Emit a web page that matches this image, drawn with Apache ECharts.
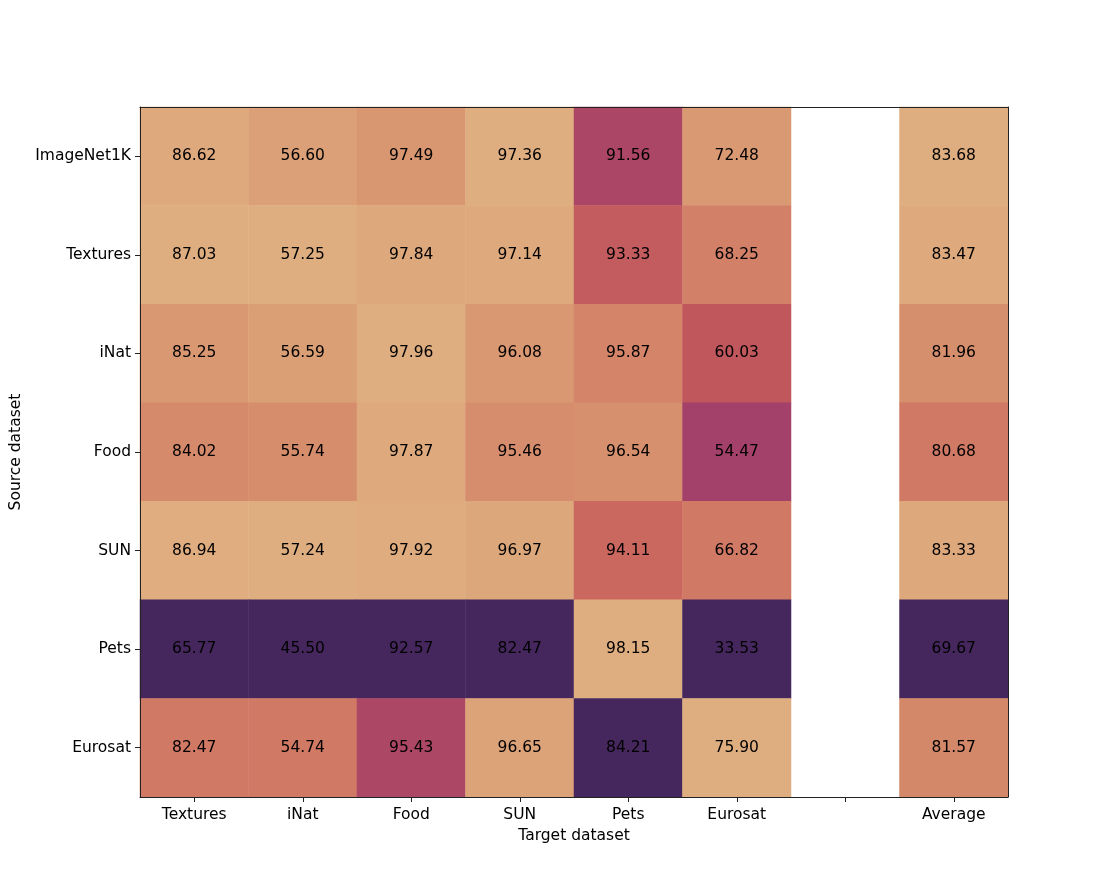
<!DOCTYPE html>
<html>
<head>
<meta charset="utf-8">
<script src="https://cdn.jsdelivr.net/npm/echarts@6/dist/echarts.min.js"></script>
<style>
  html, body { margin: 0; padding: 0; background: #fff; }
  #main { width: 1120px; height: 896px; }
</style>
</head>
<body>
<div id="main"></div>
<script>
var targets = ['Textures', 'iNat', 'Food', 'SUN', 'Pets', 'Eurosat', '', 'Average'];
var sources = ['ImageNet1K', 'Textures', 'iNat', 'Food', 'SUN', 'Pets', 'Eurosat'];

// one row per source dataset: Textures, iNat, Food, SUN, Pets, Eurosat
var rowImageNet1K = [86.62, 56.60, 97.49, 97.36, 91.56, 72.48];
var rowTextures   = [87.03, 57.25, 97.84, 97.14, 93.33, 68.25];
var rowINat       = [85.25, 56.59, 97.96, 96.08, 95.87, 60.03];
var rowFood       = [84.02, 55.74, 97.87, 95.46, 96.54, 54.47];
var rowSUN        = [86.94, 57.24, 97.92, 96.97, 94.11, 66.82];
var rowPets       = [65.77, 45.50, 92.57, 82.47, 98.15, 33.53];
var rowEurosat    = [82.47, 54.74, 95.43, 96.65, 84.21, 75.90];
var averages      = [83.68, 83.47, 81.96, 80.68, 83.33, 69.67, 81.57];

var rows = [rowImageNet1K, rowTextures, rowINat, rowFood, rowSUN, rowPets, rowEurosat];

// columns coloured each on their own scale
var columns = [];
for (var c = 0; c < 6; c++) {
    columns.push(rows.map(function (r) { return r[c]; }));
}
var averageCol = 7;

function norm(v, col) {
    var mn = Math.min.apply(null, col), mx = Math.max.apply(null, col);
    return (v - mn) / (mx - mn);
}

var data = [];
rows.forEach(function (r, y) {
    r.forEach(function (v, x) {
        data.push([x, y, v, norm(v, columns[x])]);
    });
    data.push([averageCol, y, averages[y], norm(averages[y], averages)]);
});

var font = 'DejaVu Sans';
var fs = 15.5;
var frame = '#222';
var chart = echarts.init(document.getElementById('main'));
chart.setOption({
    backgroundColor: '#fff',
    animation: false,
    grid: { left: 140, right: 112, top: 107, bottom: 99 },
    xAxis: [{
        type: 'category',
        data: targets,
        position: 'bottom',
        z: 10,
        name: 'Target dataset',
        nameLocation: 'middle',
        nameGap: 31,
        nameTextStyle: { color: '#000', fontSize: fs, fontFamily: font },
        axisLine: { show: true, lineStyle: { color: frame, width: 1 } },
        axisTick: { show: true, alignWithLabel: true, length: 5, lineStyle: { color: frame } },
        axisLabel: { show: true, interval: 0, color: '#000', fontSize: fs, fontFamily: font, margin: 10 },
        splitLine: { show: false }
    }, {
        type: 'category',
        data: targets,
        position: 'top',
        z: 10,
        axisLine: { show: true, lineStyle: { color: frame, width: 1 } },
        axisTick: { show: false },
        axisLabel: { show: false }
    }],
    yAxis: [{
        type: 'category',
        data: sources,
        inverse: true,
        position: 'left',
        z: 10,
        name: 'Source dataset',
        nameLocation: 'middle',
        nameGap: 114,
        nameRotate: 90,
        nameTextStyle: { color: '#000', fontSize: fs, fontFamily: font },
        axisLine: { show: true, lineStyle: { color: frame, width: 1 } },
        axisTick: { show: true, alignWithLabel: true, length: 5, lineStyle: { color: frame } },
        axisLabel: { show: true, interval: 0, color: '#000', fontSize: fs, fontFamily: font, margin: 9 },
        splitLine: { show: false }
    }, {
        type: 'category',
        data: sources,
        inverse: true,
        position: 'right',
        z: 10,
        axisLine: { show: true, lineStyle: { color: frame, width: 1 } },
        axisTick: { show: false },
        axisLabel: { show: false }
    }],
    visualMap: {
        show: false,
        dimension: 3,
        min: 0,
        max: 1,
        inRange: {
            color: ['#45275e', '#53295f', '#632b62', '#762f66', '#8e3769', '#a5426a',
                    '#bb525d', '#c9655e', '#d17c66', '#d8946f', '#dfae80']
        }
    },
    series: [{
        type: 'heatmap',
        data: data,
        label: {
            show: true,
            color: '#000',
            fontSize: fs,
            fontFamily: font,
            formatter: function (p) { return p.value[2].toFixed(2); }
        },
        itemStyle: { borderWidth: 0 },
        emphasis: { disabled: true }
    }]
});
</script>
</body>
</html>
